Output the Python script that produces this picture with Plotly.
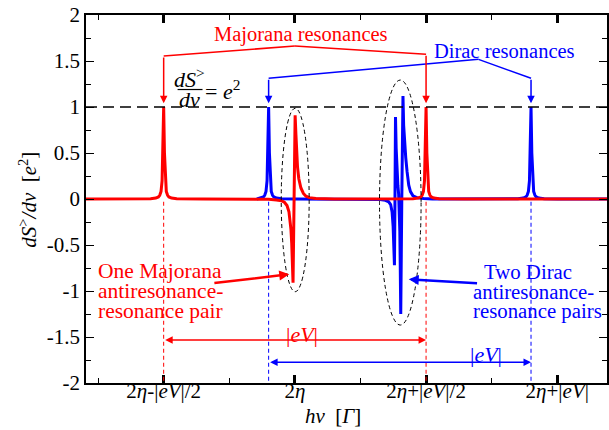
import plotly.graph_objects as go

# ---------------- data (x in units: 2η = 0, |eV|/2 = 1) ----------------
maj_x = [-1.592, -1.3, -1.1, -1.06, -1.04, -1.03, -1.02, -1.012, -1.006, -1.0, -0.994, -0.988, -0.98,
         -0.97, -0.96, -0.94, -0.9, -0.7, -0.4, -0.2, -0.14, -0.1, -0.08, -0.06, -0.045, -0.03,
         -0.024, -0.019, -0.014, -0.006, 0.002, 0.008, 0.014, 0.02, 0.03, 0.046, 0.065, 0.085, 0.11,
         0.16, 0.3, 0.6, 0.9, 0.94, 0.96, 0.97, 0.98, 0.988, 0.994, 1.0, 1.006, 1.012, 1.02, 1.03,
         1.04, 1.06, 1.1, 1.3, 2.379]
maj_y = [0.0, 0.001, 0.004, 0.01, 0.022, 0.04, 0.083, 0.2, 0.5, 1.0, 0.5, 0.2, 0.083,
         0.04, 0.022, 0.01, 0.004, 0.001, 0.0, -0.004, -0.01, -0.02, -0.035, -0.07, -0.14, -0.33,
         -0.48, -0.68, -0.91, 0.0, 0.91, 0.7, 0.5, 0.35, 0.22, 0.12, 0.06, 0.03, 0.015,
         0.005, 0.001, 0.0, 0.004, 0.01, 0.022, 0.04, 0.083, 0.2, 0.5, 1.0, 0.5, 0.2, 0.083, 0.04,
         0.022, 0.01, 0.004, 0.001, 0.0]

dir_x = [-0.29, -0.26, -0.24, -0.23, -0.22, -0.212, -0.206, -0.2, -0.194, -0.188, -0.18, -0.17,
         -0.16, -0.14, -0.1, 0.0, 0.3, 0.5, 0.6, 0.65, 0.69, 0.715, 0.73, 0.741, 0.749, 0.754,
         0.759, 0.763, 0.767, 0.772, 0.778, 0.785, 0.791, 0.796, 0.8, 0.803, 0.807, 0.815, 0.824,
         0.829, 0.836, 0.845, 0.855, 0.868, 0.881, 0.9, 0.93, 0.98, 1.05, 1.5, 1.7, 1.74, 1.76,
         1.77, 1.78, 1.788, 1.794, 1.8, 1.806, 1.812, 1.82, 1.83, 1.84, 1.86, 1.9, 2.0, 2.379]
dir_y = [0.0, 0.01, 0.022, 0.04, 0.083, 0.2, 0.5, 1.0, 0.5, 0.2, 0.083, 0.04,
         0.022, 0.01, 0.004, 0.001, 0.0, 0.0, -0.003, -0.005, -0.015, -0.03, -0.06, -0.14, -0.3, -0.5,
         -0.72, 0.0, 0.89, 0.55, 0.3, 0.15, 0.05, -0.1, -0.35, -0.7, -1.25, 0.0, 1.12,
         0.8, 0.6, 0.45, 0.3, 0.15, 0.08, 0.035, 0.015, 0.005, 0.0, 0.0, 0.004, 0.01, 0.022,
         0.04, 0.083, 0.2, 0.5, 1.0, 0.5, 0.2, 0.083, 0.04, 0.022, 0.01, 0.004, 0.001, 0.0]

maj_res_x = [-1.0, 1.0]       # Majorana resonance positions
dir_res_x = [-0.2, 1.8]       # Dirac resonance positions
unit_level = 1.0              # dS/dv = e^2

x_tickvals = [-1, 0, 1, 2]
x_ticktext = ["2<i>η</i>-|<i>eV</i>|/2", "2<i>η</i>", "2<i>η</i>+|<i>eV</i>|/2", "2<i>η</i>+|<i>eV</i>|"]
x_minor = [-1.5, -0.5, 0.5, 1.5]
y_tickvals = [-2, -1.5, -1, -0.5, 0, 0.5, 1, 1.5, 2]
y_ticktext = ["-2", "-1.5", "-1", "-0.5", "0", "0.5", "1", "1.5", "2"]
y_minor = [-1.75, -1.25, -0.75, -0.25, 0.25, 0.75, 1.25, 1.75]

RED = "#ff0000"
BLUE = "#0000ff"
FONT = "Liberation Serif"

fig = go.Figure()
fig.add_trace(go.Scatter(x=dir_x, y=dir_y, mode="lines", line=dict(color=BLUE, width=3), showlegend=False))
fig.add_trace(go.Scatter(x=maj_x, y=maj_y, mode="lines", line=dict(color=RED, width=3), showlegend=False))

shapes = []
# horizontal dashed line at e^2
shapes.append(dict(type="line", xref="paper", x0=0, x1=1, yref="y", y0=unit_level, y1=unit_level,
                   line=dict(color="black", width=1.6, dash="11px,6px")))
# vertical dashed guide lines
for xv in maj_res_x:
    shapes.append(dict(type="line", xref="x", x0=xv, x1=xv, yref="y", y0=-0.03, y1=-2,
                       line=dict(color=RED, width=1, dash="4px,3px")))
for xv in dir_res_x:
    shapes.append(dict(type="line", xref="x", x0=xv, x1=xv, yref="y", y0=-0.03, y1=-2,
                       line=dict(color=BLUE, width=1, dash="4px,3px")))
# brackets
shapes.append(dict(type="line", x0=0.0, y0=1.663, x1=maj_res_x[0], y1=1.554, line=dict(color=RED, width=1.5)))
shapes.append(dict(type="line", x0=0.0, y0=1.663, x1=maj_res_x[1], y1=1.573, line=dict(color=RED, width=1.5)))
shapes.append(dict(type="line", x0=1.3995, y0=1.518, x1=dir_res_x[0], y1=1.312, line=dict(color=BLUE, width=1.5)))
shapes.append(dict(type="line", x0=1.3995, y0=1.518, x1=dir_res_x[1], y1=1.312, line=dict(color=BLUE, width=1.5)))
# ellipses
shapes.append(dict(type="circle", x0=-0.104, x1=0.109, y0=-1.008, y1=0.986,
                   line=dict(color="black", width=1, dash="4px,3px")))
shapes.append(dict(type="circle", x0=0.645, x1=0.962, y0=-1.37, y1=1.293,
                   line=dict(color="black", width=1, dash="4px,3px")))
# fraction bar
shapes.append(dict(type="line", x0=-0.894, x1=-0.704, y0=1.19, y1=1.19, line=dict(color="black", width=1.2)))

ann = []
def arrow(x, y, ax, ay, color, width=1.5, size=1.0, both=False):
    d = dict(x=x, y=y, ax=ax, ay=ay, xref="x", yref="y", axref="x", ayref="y", text="",
             showarrow=True, arrowhead=2, arrowsize=size, arrowwidth=width, arrowcolor=color,
             standoff=0, startstandoff=0)
    if both:
        d.update(arrowside="end+start", startarrowhead=2, startarrowsize=size)
    ann.append(d)

arrow(maj_res_x[0], 1.04, maj_res_x[0], 1.554, RED)
arrow(maj_res_x[1], 1.04, maj_res_x[1], 1.573, RED)
arrow(dir_res_x[0], 1.04, dir_res_x[0], 1.312, BLUE)
arrow(dir_res_x[1], 1.04, dir_res_x[1], 1.312, BLUE)
# |eV| double arrows
arrow(maj_res_x[1], -1.533, maj_res_x[0], -1.533, RED, width=1.5, both=True)
arrow(dir_res_x[1], -1.775, dir_res_x[0], -1.775, BLUE, width=1.5, both=True)
# pointer arrows
arrow(-0.043, -0.818, -0.625, -0.916, RED, width=2.5, size=0.8)
arrow(0.868, -0.873, 1.40, -0.916, BLUE, width=2.5, size=0.8)

def text(x, y, s, color="black", size=20, xanchor="center", xref="x", yref="y", angle=0):
    ann.append(dict(x=x, y=y, xref=xref, yref=yref, text=s, showarrow=False, xanchor=xanchor,
                    yanchor="middle", textangle=angle, borderpad=0,
                    font=dict(family=FONT, size=size, color=color)))

text(0.044, 1.783, "Majorana resonances", RED, 20.5)
text(1.6, 1.609, "Dirac resonances", BLUE, 20.5)
text(-0.803, 1.31, "<i>dS</i><sup>></sup>", "black", 22)
text(-0.803, 1.08, "<i>dν</i>", "black", 22)
text(-0.69, 1.19, "= <i>e</i><sup>2</sup>", "black", 22, xanchor="left")
text(0.058, -1.478, "|<i>eV</i>|", RED, 22)
text(1.455, -1.685, "|<i>eV</i>|", BLUE, 22)
# red label block
for i, s in enumerate(["One Majorana", "antiresonance-", "resonance pair"]):
    text(-1.51, -0.785 - i * 0.2174, s, RED, 21.5, xanchor="left")
# blue label block
for s, xl, i in [("Two Dirac", 1.435, 0), ("antiresonance-", 1.35, 1), ("resonance pairs", 1.35, 2)]:
    text(xl, -0.785 - i * 0.2174, s, BLUE, 20.8, xanchor="left")
# axis titles
text(-0.112, 0.497, "<i>dS</i><sup>></sup><i>/dν</i>\u00a0\u00a0[<i>e</i><sup>2</sup>]", "black", 21,
     xref="paper", yref="paper", angle=-90)
text(0.474, -0.09, "<i>hν</i>\u00a0\u00a0[<i>Γ</i>]", "black", 21, xref="paper", yref="paper")

fig.update_layout(
    width=609, height=430,
    margin=dict(l=86, r=0, t=15, b=47),
    paper_bgcolor="white", plot_bgcolor="white",
    shapes=shapes, annotations=ann, showlegend=False,
    font=dict(family=FONT, size=20, color="black"),
)
fig.update_xaxes(range=[-1.592, 2.379], showgrid=False, zeroline=False, showline=True, linecolor="black",
                 linewidth=1.5, mirror="ticks", ticks="inside", ticklen=8, tickwidth=3, tickcolor="black",
                 tickmode="array", tickvals=x_tickvals, ticktext=x_ticktext, ticklabelstandoff=-12,
                 tickfont=dict(family=FONT, size=21, color="black"),
                 minor=dict(tickmode="array", tickvals=x_minor, ticks="inside", ticklen=5, tickwidth=1,
                            tickcolor="black"))
fig.update_yaxes(range=[-2, 2], showgrid=False, zeroline=False, showline=True, linecolor="black",
                 linewidth=1.5, mirror="ticks", ticks="inside", ticklen=8, tickwidth=1.3, tickcolor="black",
                 tickmode="array", tickvals=y_tickvals, ticktext=y_ticktext,
                 tickfont=dict(family=FONT, size=21, color="black"),
                 minor=dict(tickmode="array", tickvals=y_minor, ticks="inside", ticklen=5, tickwidth=1,
                            tickcolor="black"))

fig.write_html("out.html")
